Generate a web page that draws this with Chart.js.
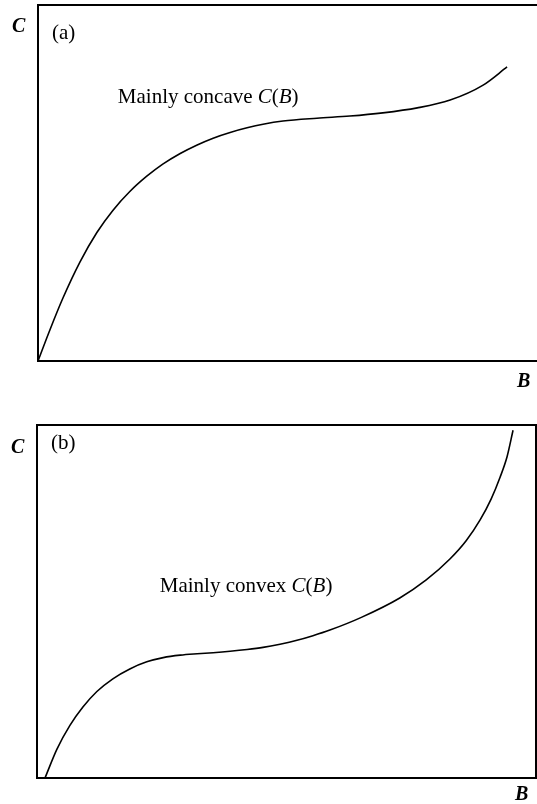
<!DOCTYPE html>
<html>
<head>
<meta charset="utf-8">
<title>C(B) shapes</title>
<script src="https://cdn.jsdelivr.net/npm/chart.js@4.4.1/dist/chart.umd.min.js"></script>
<style>
  html, body { margin: 0; padding: 0; background: #fff; }
  .panel { position: absolute; left: 0; width: 537px; }
  #panelA { top: 0; height: 400px; }
  #panelB { top: 400px; height: 404px; }
</style>
</head>
<body>
<div class="panel" id="panelA"><canvas id="chartA" width="537" height="400"></canvas></div>
<div class="panel" id="panelB"><canvas id="chartB" width="537" height="404"></canvas></div>
<script>
// (a) mainly concave cost curve, B and C in arbitrary units (0-100)
const concaveB = [0, 2.4, 5.0, 8.4, 11.8, 15.0, 18.4, 21.8, 25.0, 28.5, 31.9, 35.1, 38.5, 41.9, 45.1, 49.1, 55.9, 62.5, 69.1, 76.0, 82.6, 89.2, 94.0];
const concaveC = [0, 8.8, 17.7, 27.8, 36.1, 42.3, 47.6, 51.9, 55.3, 58.3, 60.7, 62.6, 64.2, 65.5, 66.5, 67.4, 68.2, 68.8, 69.7, 71.1, 73.3, 77.5, 82.6];

// (b) mainly convex cost curve
const convexB = [1.6, 4.0, 6.6, 9.2, 12.0, 15.2, 18.6, 22.0, 25.3, 28.7, 32.1, 35.3, 38.7, 42.1, 45.3, 48.7, 52.1, 55.3, 58.7, 65.0, 72.7, 78.0, 82.8, 86.0, 88.8, 91.0, 92.8, 94.2, 95.4];
const convexC = [0, 8.2, 14.9, 20.1, 24.5, 28.1, 30.9, 32.9, 34.1, 34.8, 35.2, 35.5, 35.9, 36.4, 37.0, 37.9, 39.0, 40.3, 41.9, 45.5, 51.0, 56.1, 62.1, 67.2, 73.1, 79.0, 85.2, 91.0, 98.5];

const SERIF = '"Liberation Serif", "Times New Roman", serif';

function toPoints(xs, ys) {
  return xs.map((x, i) => ({ x: x, y: ys[i] }));
}

// draws a line of text made of upright/italic runs, starting at (x, y) baseline
function drawRuns(ctx, runs, x, y) {
  runs.forEach(r => {
    ctx.font = (r.italic ? 'italic ' : '') + '21px ' + SERIF;
    ctx.fillText(r.text, x, y);
    x += ctx.measureText(r.text).width;
  });
}

const panelText = {
  id: 'panelText',
  afterDraw(chart, args, opts) {
    const { ctx, chartArea: area, scales } = chart;
    ctx.save();
    ctx.fillStyle = '#000';
    ctx.textBaseline = 'alphabetic';

    ctx.font = '21px ' + SERIF;
    ctx.fillText(opts.tag, area.left + 14, area.top + opts.tagDy);

    ctx.font = 'italic bold 20px ' + SERIF;
    ctx.fillText('C', area.left - 26, area.top + opts.cDy);
    ctx.fillText('B', opts.bX, area.bottom + opts.bDy);

    const nx = scales.x.getPixelForValue(opts.noteAt[0]);
    const ny = scales.y.getPixelForValue(opts.noteAt[1]);
    drawRuns(ctx, [
      { text: opts.note + ' ' },
      { text: 'C', italic: true },
      { text: '(' },
      { text: 'B', italic: true },
      { text: ')' }
    ], nx, ny);
    ctx.restore();
  }
};

function frameAxis(position, show) {
  return {
    type: 'linear',
    position: position,
    display: true,
    min: 0,
    max: 100,
    ticks: { display: false },
    grid: { display: false, drawTicks: false },
    border: { display: show, color: '#000', width: 2 }
  };
}

function makeChart(canvasId, points, padding, rightBorder, text) {
  return new Chart(document.getElementById(canvasId), {
    type: 'line',
    data: {
      datasets: [{
        data: points,
        borderColor: '#000',
        borderWidth: 1.6,
        pointRadius: 0,
        fill: false,
        cubicInterpolationMode: 'monotone'
      }]
    },
    options: {
      responsive: false,
      animation: false,
      layout: { padding: padding },
      plugins: {
        legend: { display: false },
        tooltip: { enabled: false },
        panelText: text
      },
      scales: {
        x: frameAxis('bottom', true),
        y: frameAxis('left', true),
        xTop: frameAxis('top', true),
        yRight: frameAxis('right', rightBorder)
      }
    },
    plugins: [panelText]
  });
}

makeChart('chartA', toPoints(concaveB, concaveC),
  { left: 38, top: 5, right: 0, bottom: 39 }, false,
  { tag: '(a)', tagDy: 34, cDy: 27, bX: 517, bDy: 26, note: 'Mainly concave', noteAt: [16.0, 72.5] });

makeChart('chartB', toPoints(convexB, convexC),
  { left: 37, top: 25, right: 1, bottom: 26 }, true,
  { tag: '(b)', tagDy: 24, cDy: 28, bX: 515, bDy: 22, note: 'Mainly convex', noteAt: [24.6, 52.7] });
</script>
</body>
</html>
